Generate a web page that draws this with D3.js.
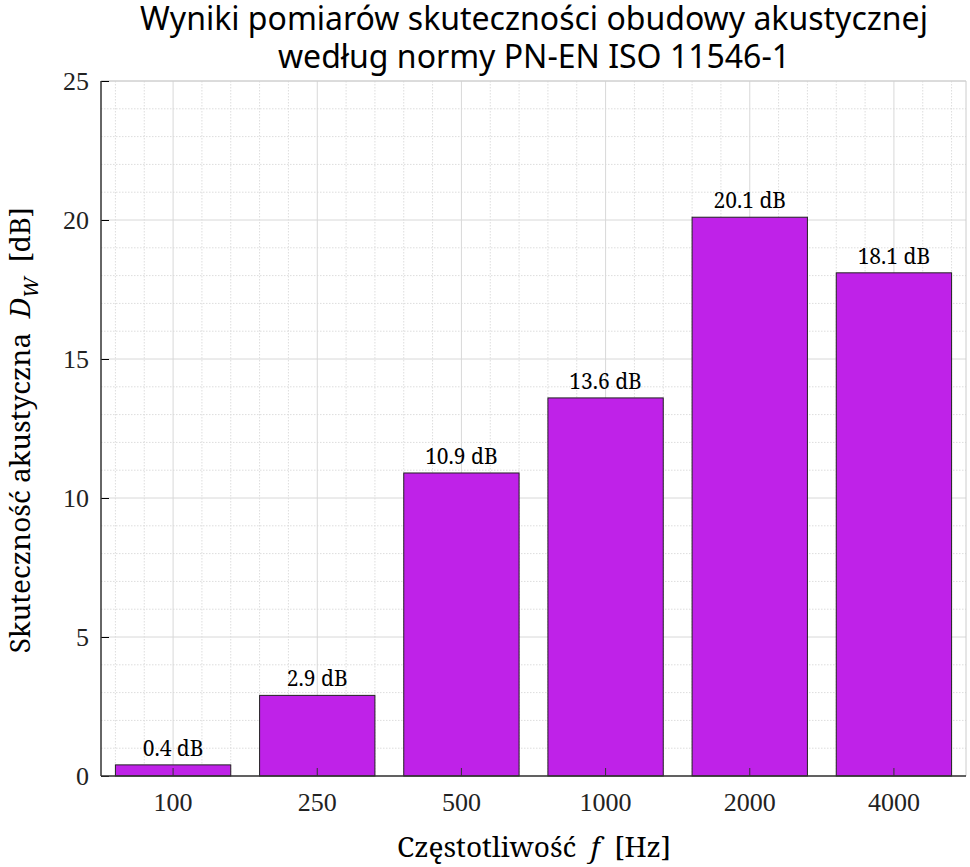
<!DOCTYPE html><html><head><meta charset="utf-8"><script src="https://cdn.jsdelivr.net/npm/d3@7"></script>
<style>body{margin:0;background:#fff}</style></head><body><svg id="c" width="970" height="867"></svg>
<script>
const categories=["100","250","500","1000","2000","4000"];
const values=[0.4,2.9,10.9,13.6,20.1,18.1];
const yTicks=[0,5,10,15,20,25];
const title=["Wyniki pomiarów skuteczności obudowy akustycznej","według normy PN-EN ISO 11546-1"];
const svg=d3.select("#c");
const L=101,R=966,T=81,B=776;
const x=d3.scaleLinear().domain([0,6]).range([L,R]);
const y=d3.scaleLinear().domain([0,25]).range([B,T]);
const g=svg.append("g");
for(let v=0;v<=25;v++) g.append("line").attr("x1",L).attr("x2",R).attr("y1",y(v)).attr("y2",y(v))
  .attr("stroke",v%5?"#ddd":"#d8d8d8").attr("stroke-dasharray",v%5?"1.5,1.5":null);
for(let k=0;k<30;k++){const xv=0.1+k*0.2;const major=(k%5)===2;
 g.append("line").attr("x1",x(xv)).attr("x2",x(xv)).attr("y1",T).attr("y2",B)
  .attr("stroke",major?"#d8d8d8":"#ddd").attr("stroke-dasharray",major?null:"1.5,1.5");}
svg.append("line").attr("x1",L).attr("x2",R).attr("y1",T).attr("y2",T).attr("stroke","#ccc");
svg.append("line").attr("x1",R).attr("x2",R).attr("y1",T).attr("y2",B).attr("stroke","#ccc");
const bw=x(0.8)-x(0);
svg.selectAll(".bar").data(values).join("rect").attr("x",(d,i)=>x(i+0.5)-bw/2).attr("width",bw)
 .attr("y",d=>y(d)).attr("height",d=>y(0)-y(d)).attr("fill","#bf22e8").attr("stroke","#222").attr("stroke-width",1);
svg.selectAll(".lab").data(values).join("text").attr("x",(d,i)=>x(i+0.5)).attr("y",d=>y(d)-9)
 .attr("text-anchor","middle").attr("font-family","Noto Serif, DejaVu Serif, serif").attr("font-size",21).text(d=>d.toFixed(1)+" dB");
const ya=svg.append("g").attr("transform",`translate(${L},0)`).call(d3.axisLeft(y).tickValues(yTicks).tickSize(-8).tickPadding(12));
ya.selectAll("text").attr("font-family","Liberation Serif, serif").attr("font-size",26).attr("fill","#222");
ya.select(".domain").remove();
svg.append("line").attr("x1",L).attr("x2",L).attr("y1",T).attr("y2",B).attr("stroke","#333").attr("stroke-width",1.5);
svg.append("line").attr("x1",L).attr("x2",R).attr("y1",B).attr("y2",B).attr("stroke","#333").attr("stroke-width",1.5);
svg.selectAll(".xt").data(categories).join("text").attr("x",(d,i)=>x(i+0.5)).attr("y",B+35)
 .attr("text-anchor","middle").attr("font-family","Liberation Serif, serif").attr("font-size",26).attr("fill","#222").text(d=>d);
svg.selectAll(".xtk").data(categories).join("line").attr("x1",(d,i)=>x(i+0.5)).attr("x2",(d,i)=>x(i+0.5)).attr("y1",B).attr("y2",B-8).attr("stroke","#333");
svg.selectAll(".tt").data(title).join("text").attr("x",534).attr("y",(d,i)=>30+i*38).attr("text-anchor","middle")
 .attr("font-family","Noto Sans, sans-serif").attr("font-size",32).text(d=>d);
const xl=svg.append("text").attr("x",534).attr("y",857).attr("text-anchor","middle").attr("font-family","Noto Serif, DejaVu Serif, serif").attr("font-size",28);
xl.append("tspan").text("Częstotliwość\u00a0\u00a0");xl.append("tspan").attr("font-style","italic").text("f");xl.append("tspan").text("\u00a0\u00a0[Hz]");
const yl=svg.append("text").attr("transform","translate(30,430) rotate(-90)").attr("text-anchor","middle").attr("font-family","Noto Serif, DejaVu Serif, serif").attr("font-size",28);
yl.append("tspan").text("Skuteczność akustyczna\u00a0\u00a0");yl.append("tspan").attr("font-style","italic").text("D");
yl.append("tspan").attr("font-style","italic").attr("font-size",20).attr("dy",8).text("W");yl.append("tspan").attr("dy",-8).text("\u00a0\u00a0[dB]");
</script></body></html>
